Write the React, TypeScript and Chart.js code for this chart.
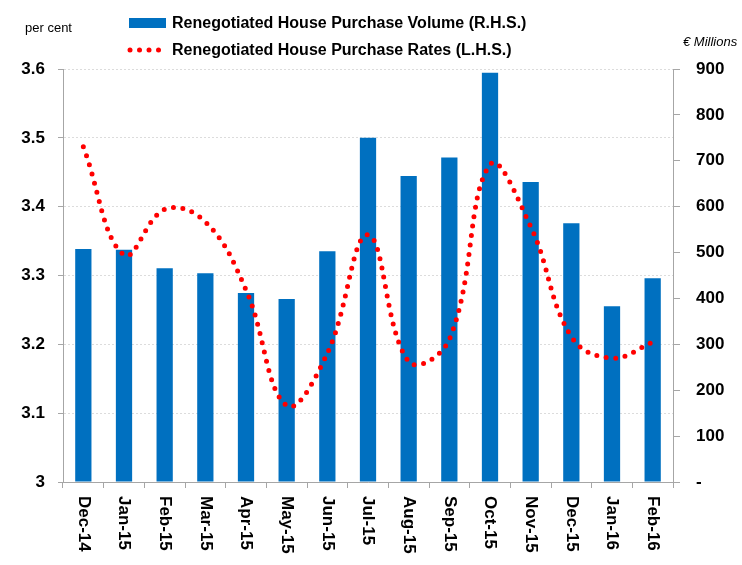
import React, { useEffect, useRef } from "react";
import { Chart, registerables } from "chart.js";

Chart.register(...registerables);

const categories = ["Dec-14","Jan-15","Feb-15","Mar-15","Apr-15","May-15","Jun-15","Jul-15","Aug-15","Sep-15","Oct-15","Nov-15","Dec-15","Jan-16","Feb-16"];
const volumeValues = [508, 506, 466, 455, 412, 399, 503, 750, 667, 707, 892, 654, 564, 383, 444];
const rateValues = [3.487, 3.33, 3.396, 3.378, 3.279, 3.111, 3.187, 3.359, 3.175, 3.207, 3.461, 3.371, 3.211, 3.18, 3.203];
const leftTicks = [3, 3.1, 3.2, 3.3, 3.4, 3.5, 3.6];
const rightTicks = [0, 100, 200, 300, 400, 500, 600, 700, 800, 900];

const volumeLabel = "Renegotiated House Purchase Volume (R.H.S.)";
const rateLabel = "Renegotiated House Purchase Rates (L.H.S.)";

const FONT = "'Liberation Sans Narrow', 'Liberation Sans', Arial, sans-serif";

export default function App() {
  const ref = useRef<HTMLCanvasElement | null>(null);

  useEffect(() => {
    document.body.style.margin = "0";
    const canvas = ref.current;
    if (!canvas) return;

    const xLabelPlugin = {
      id: "xLabels",
      afterDraw(chart: any) {
        const ctx = chart.ctx;
        const xs = chart.scales.x;
        ctx.save();
        ctx.font = `bold 17px ${FONT}`;
        ctx.fillStyle = "#000";
        ctx.textAlign = "left";
        ctx.textBaseline = "middle";
        categories.forEach((c, i) => {
          const x = xs.getPixelForTick(i);
          ctx.save();
          ctx.translate(x, 496);
          ctx.rotate(Math.PI / 2);
          ctx.fillText(c, 0, 0);
          ctx.restore();
        });
        ctx.restore();
      },
    };

    const chart = new Chart(canvas, {
      type: "bar",
      data: {
        labels: categories,
        datasets: [
          {
            type: "line",
            label: rateLabel,
            data: rateValues,
            yAxisID: "y",
            borderColor: "#ff0000",
            borderWidth: 5,
            borderDash: [0, 9.5],
            borderCapStyle: "round",
            tension: 0.4,
            pointRadius: 0,
            fill: false,
            order: 0,
          } as any,
          {
            type: "bar",
            label: volumeLabel,
            data: volumeValues,
            yAxisID: "y1",
            backgroundColor: "#0070c0",
            borderColor: "#5b9bd5",
            borderWidth: 0,
            barPercentage: 0.4,
            categoryPercentage: 1,
            order: 1,
          },
        ],
      },
      plugins: [xLabelPlugin],
      options: {
        animation: false,
        responsive: false,
        maintainAspectRatio: false,
        layout: { padding: { top: 69, left: 0, right: 0, bottom: 0 } },
        plugins: {
          legend: { display: false },
          tooltip: { enabled: false },
        },
        scales: {
          x: {
            offset: true,
            grid: {
              offset: true,
              drawOnChartArea: false,
              drawTicks: true,
              tickLength: 6,
              tickColor: "#a6a6a6",
            },
            border: { color: "#a6a6a6", width: 1 },
            ticks: { display: false },
            afterFit(scale: any) {
              scale.height = 83;
            },
          },
          y: {
            position: "left",
            min: 3,
            max: 3.6,
            afterBuildTicks(scale: any) {
              scale.ticks = leftTicks.map((v) => ({ value: v }));
            },
            ticks: {
              font: { family: FONT, size: 17, weight: "bold" },
              color: "#000",
              padding: 13,
              callback: (v: any) => String(Number(Number(v).toFixed(1))),
            },
            grid: {
              color: "#dcdcdc",
              tickColor: "#a6a6a6",
              tickLength: 5,
            },
            border: { color: "#a6a6a6", width: 1, dash: [2, 2] },
            afterFit(scale: any) {
              scale.width = 63;
            },
          },
          y1: {
            position: "right",
            min: 0,
            max: 900,
            afterBuildTicks(scale: any) {
              scale.ticks = rightTicks.map((v) => ({ value: v }));
            },
            ticks: {
              font: { family: FONT, size: 17, weight: "bold" },
              color: "#000",
              padding: 16,
              callback: (v: any) => (Number(v) === 0 ? "-" : String(v)),
            },
            grid: {
              drawOnChartArea: false,
              tickColor: "#a6a6a6",
              tickLength: 7,
            },
            border: { color: "#a6a6a6", width: 1 },
            afterFit(scale: any) {
              scale.width = 69;
            },
          },
        },
      },
    });
    return () => chart.destroy();
  }, []);

  const legendText: React.CSSProperties = {
    position: "absolute",
    fontFamily: FONT,
    fontWeight: "bold",
    fontSize: 16,
    color: "#000",
    whiteSpace: "nowrap",
    lineHeight: "18px",
  };

  return (
    <div style={{ position: "relative", width: 742, height: 565, background: "#fff", overflow: "hidden" }}>
      <canvas ref={ref} width={742} height={565} style={{ position: "absolute", left: 0, top: 0 }} />
      <div style={{ position: "absolute", left: 25, top: 20, fontFamily: "'Liberation Sans', Arial, sans-serif", fontSize: 13, color: "#000" }}>per cent</div>
      <div style={{ position: "absolute", left: 683, top: 34, fontFamily: "'Liberation Sans', Arial, sans-serif", fontStyle: "italic", fontSize: 13, color: "#000", whiteSpace: "nowrap" }}>€ Millions</div>
      <div style={{ position: "absolute", left: 129, top: 18, width: 37, height: 10, background: "#0070c0" }} />
      <div style={{ ...legendText, left: 172, top: 14 }}>{volumeLabel}</div>
      <svg style={{ position: "absolute", left: 126, top: 44 }} width={40} height={12}>
        {[0, 1, 2, 3].map((i) => (
          <circle key={i} cx={4 + i * 9.5} cy={6} r={2.5} fill="#ff0000" />
        ))}
      </svg>
      <div style={{ ...legendText, left: 172, top: 41 }}>{rateLabel}</div>
    </div>
  );
}
